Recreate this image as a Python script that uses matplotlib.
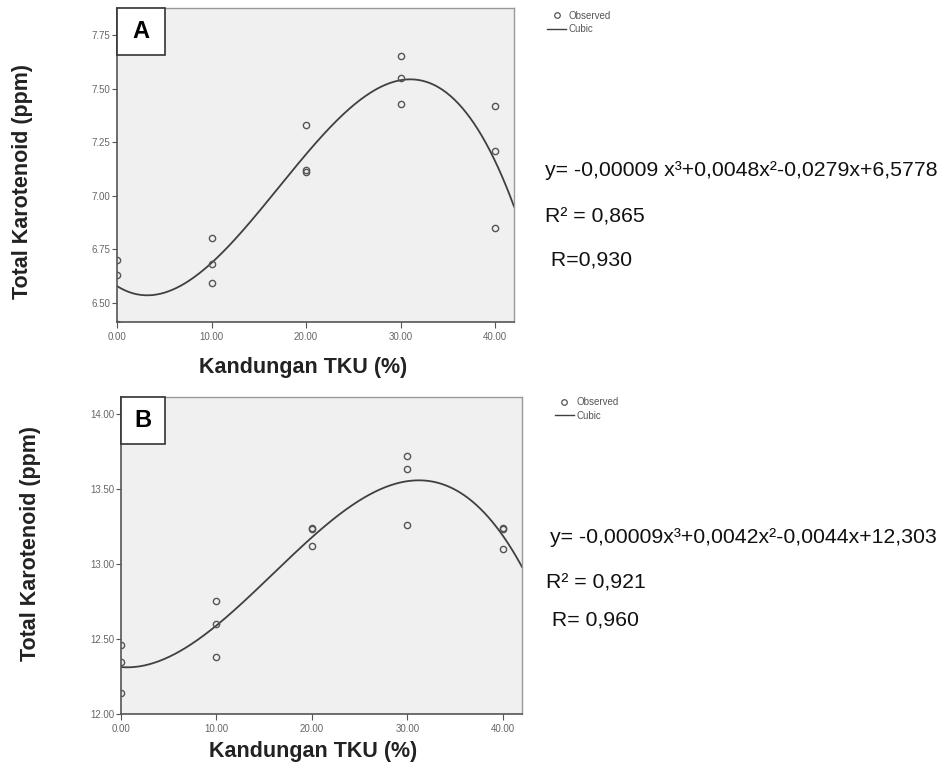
import numpy as np
import matplotlib
matplotlib.use("Agg")
import matplotlib.pyplot as plt
from matplotlib.lines import Line2D

plt.rcParams['font.family'] = ['Liberation Sans', 'DejaVu Sans']

tku = [0, 0, 0, 10, 10, 10, 20, 20, 20, 30, 30, 30, 40, 40, 40]
karot_a = [6.70, 6.63, 6.40, 6.80, 6.68, 6.59, 7.33, 7.12, 7.11,
           7.65, 7.55, 7.43, 7.42, 7.21, 6.85]
karot_b = [12.46, 12.35, 12.14, 12.75, 12.60, 12.38, 13.24, 13.23, 13.12,
           13.72, 13.63, 13.26, 13.24, 13.23, 13.10]

xticks = [0, 10, 20, 30, 40]
yticks_a = [6.50, 6.75, 7.00, 7.25, 7.50, 7.75]
yticks_b = [12.00, 12.50, 13.00, 13.50, 14.00]

eq_a = ["y= -0,00009 x³+0,0048x²-0,0279x+6,5778", "R² = 0,865", " R=0,930"]
eq_b = ["y= -0,00009x³+0,0042x²-0,0044x+12,303", "R² = 0,921", " R= 0,960"]

fig = plt.figure(figsize=(9.51, 7.63), dpi=100)


def panel(rect, y, yticks, ylim, letter, box, xlab_pos, ylab_pos):
    ax = fig.add_axes(rect)
    ax.set_facecolor('#f0f0f0')
    # cubic fit of the observed points
    coef = np.polyfit(tku, y, 3)
    xs = np.linspace(0, 42, 300)
    ax.plot(xs, np.polyval(coef, xs), color='#404040', lw=1.3)
    ax.plot(tku, y, 'o', mfc='none', mec='#555555', ms=4.5, mew=1.0)
    ax.set_xlim(0, 42)
    ax.set_ylim(*ylim)
    ax.set_xticks(xticks)
    ax.set_xticklabels(["%.2f" % v for v in xticks])
    ax.set_yticks(yticks)
    ax.set_yticklabels(["%.2f" % v for v in yticks])
    ax.tick_params(labelsize=7, labelcolor='#666666', color='#555555', width=0.8)
    ax.tick_params(axis='y', length=3.5, pad=1.5)
    ax.tick_params(axis='x', length=4, pad=3)
    for s in ['left', 'bottom']:
        ax.spines[s].set_color('#555555')
        ax.spines[s].set_linewidth(1.2)
    for s in ['top', 'right']:
        ax.spines[s].set_color('#999999')
        ax.spines[s].set_linewidth(1.0)
    ax.set_xlabel("Kandungan TKU (%)", fontsize=15.5, fontweight='bold', color='#222222')
    ax.set_ylabel("Total Karotenoid (ppm)", fontsize=15.5, fontweight='bold', color='#222222')
    ax.xaxis.set_label_coords(*xlab_pos)
    ax.yaxis.set_label_coords(*ylab_pos)
    w, h = box
    ax.add_patch(plt.Rectangle((0, 1 - h), w, h, transform=ax.transAxes,
                               fc='white', ec='#333333', lw=1.2, zorder=4, clip_on=False))
    ax.text(w / 2, 1 - h / 2, letter, transform=ax.transAxes, fontsize=17,
            fontweight='bold', ha='center', va='center', zorder=5)
    return ax


ax1 = panel([0.1230, 0.578, 0.4175, 0.4115], karot_a, yticks_a, (6.41, 7.876), "A",
            (0.120, 0.15), (0.469, -0.112), (-0.212, 0.446))
ax2 = panel([0.1272, 0.0640, 0.4217, 0.4157], karot_b, yticks_b, (12.0, 14.11), "B",
            (0.110, 0.148), (0.479, -0.085), (-0.200, 0.538))

# legends
handles = [Line2D([], [], marker='o', ls='none', mfc='none', mec='#555555', ms=4, mew=0.9),
           Line2D([], [], color='#404040', lw=1.0)]
for xpos, ypos in [(0.568, 0.995), (0.576, 0.488)]:
    fig.legend(handles, ["Observed", "Cubic"], loc='upper left',
               bbox_to_anchor=(xpos, ypos), frameon=False, fontsize=7,
               handlelength=2.0, handletextpad=0.25, labelspacing=0.35,
               labelcolor='#555555', borderpad=0.2)

# equation text
for lines, xs, ys in [(eq_a, [0.573, 0.573, 0.573], [0.777, 0.716, 0.659]),
                      (eq_b, [0.578, 0.574, 0.574], [0.295, 0.236, 0.187])]:
    for t, x, y in zip(lines, xs, ys):
        fig.text(x, y, t, fontsize=15.3, ha='left', va='center', color='#111111')

fig.savefig("out.png", dpi=100, facecolor='white')
